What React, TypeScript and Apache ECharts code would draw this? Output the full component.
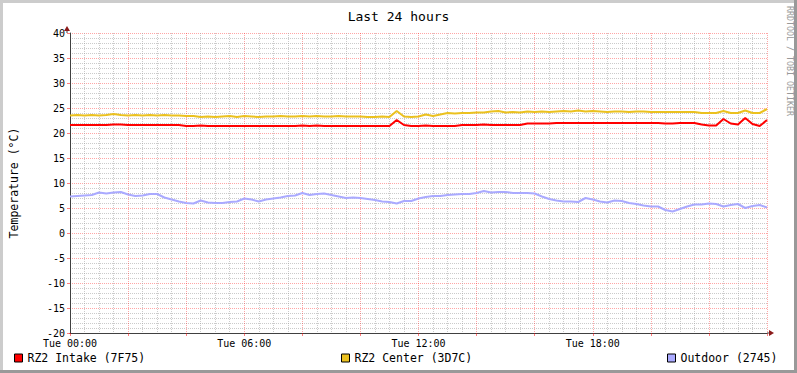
import React, { useEffect, useRef } from 'react';
import * as echarts from 'echarts';

const FONT = "'DejaVu Sans Mono', monospace";

// sample spacing in hours (x positions are index * STEP_HOURS)
const STEP_HOURS = 0.25;
const X_LABEL_HOURS = [0, 6, 12, 18];
const SERIES_NAMES = ['RZ2 Intake (7F75)', 'RZ2 Center (3D7C)', 'Outdoor (2745)'];
const SERIES_COLORS = ['#FF0000', '#EBC11F', '#AAAAFF'];

const INTAKE = [
  21.6, 21.6, 21.6, 21.6, 21.6, 21.6,
  21.7, 21.7,
  21.6, 21.6, 21.6, 21.6, 21.6, 21.6, 21.6, 21.6,
  21.4, 21.4, 21.5,
  21.4, 21.4, 21.4, 21.4, 21.4, 21.4, 21.4, 21.4, 21.4, 21.4, 21.4, 21.4, 21.4,
  21.5, 21.4, 21.5,
  21.4, 21.4, 21.4, 21.4, 21.4, 21.4, 21.4, 21.4, 21.4, 21.4,
  22.6, 21.6, 21.4, 21.4, 21.5,
  21.4, 21.4, 21.4, 21.4,
  21.6, 21.6, 21.6, 21.7,
  21.6, 21.6, 21.6, 21.6, 21.6,
  21.9, 21.9, 21.9, 21.9,
  22.0, 22.0, 22.0, 22.0, 22.0, 22.0, 22.0, 22.0, 22.0, 22.0, 22.0, 22.0, 22.0, 22.0, 22.0,
  21.9, 21.9,
  22.0, 22.0, 22.0,
  21.7, 21.5, 21.5, 22.8, 21.9, 21.7, 23.0, 21.8, 21.4, 22.6,
];

const CENTER = [
  23.5, 23.6, 23.5, 23.6, 23.5, 23.6, 23.8, 23.6, 23.5, 23.6,
  23.5, 23.6, 23.5, 23.6, 23.5, 23.5, 23.4, 23.4, 23.2, 23.3,
  23.2, 23.3, 23.4, 23.2, 23.4, 23.3, 23.2, 23.3, 23.3, 23.4,
  23.3, 23.3, 23.4, 23.3, 23.4, 23.3, 23.3, 23.4, 23.3, 23.3,
  23.3, 23.2, 23.2, 23.3, 23.2, 24.4, 23.3, 23.2, 23.3, 23.7,
  23.4, 23.7, 24.0, 23.9, 24.0, 24.0, 24.1, 24.1, 24.3, 24.4,
  24.1, 24.2, 24.1, 24.3, 24.2, 24.3, 24.2, 24.3, 24.4, 24.3,
  24.5, 24.3, 24.4, 24.3, 24.2, 24.3, 24.3, 24.2, 24.3, 24.3,
  24.2, 24.2, 24.2, 24.2, 24.2, 24.2, 24.2, 24.0, 24.0, 24.0,
  24.4, 24.0, 24.0, 24.5, 24.0, 24.0, 24.8,
];

const OUTDOOR = [
  7.3, 7.4, 7.5, 7.6, 8.1, 7.9, 8.1, 8.2, 7.7, 7.4,
  7.5, 7.8, 7.8, 7.1, 6.7, 6.3, 6.0, 5.9, 6.5, 6.1,
  6.0, 6.0, 6.2, 6.3, 6.9, 6.7, 6.3, 6.7, 6.9, 7.1,
  7.4, 7.5, 8.0, 7.6, 7.8, 7.9, 7.6, 7.3, 7.0, 7.1,
  7.0, 6.8, 6.6, 6.3, 6.2, 5.9, 6.4, 6.4, 6.9, 7.2,
  7.4, 7.4, 7.6, 7.7, 7.8, 7.8, 8.0, 8.4, 8.1, 8.2,
  8.2, 8.0, 8.0, 8.0, 7.9, 7.3, 6.8, 6.5, 6.3, 6.3,
  6.2, 7.0, 6.7, 6.3, 6.1, 6.5, 6.4, 6.0, 5.8, 5.5,
  5.3, 5.3, 4.6, 4.3, 4.8, 5.3, 5.7, 5.7, 5.9, 5.8,
  5.3, 5.6, 5.8, 5.0, 5.4, 5.6, 5.1,
];

const SERIES_VALUES = [INTAKE, CENTER, OUTDOOR];

const pad = (n: number) => (n < 10 ? '0' + n : '' + n);

export default function App() {
  const ref = useRef<HTMLDivElement>(null);
  useEffect(() => {
    if (!ref.current) return;
    const chart = echarts.init(ref.current, undefined, { renderer: 'svg' });
    const legendLefts = [14, 341, 667];
    const option: any = {
      animation: false,
      backgroundColor: '#FFFFFF',
      textStyle: { fontFamily: FONT },
      title: {
        text: 'Last 24 hours',
        left: 'center',
        top: 5,
        textStyle: { fontFamily: FONT, fontSize: 13, fontWeight: 'normal', color: '#000' },
      },
      grid: { left: 67, right: 30, top: 33, bottom: 40, containLabel: false },
      xAxis: {
        type: 'value',
        min: 0,
        max: 24,
        interval: 2,
        axisLine: { show: true, onZero: false, lineStyle: { color: '#404040', width: 1 } },
        axisTick: { show: true, length: 3, lineStyle: { color: 'rgba(255,0,0,0.5)' } },
        minorTick: { show: false, splitNumber: 4 },
        axisLabel: {
          fontFamily: FONT,
          fontSize: 10,
          lineHeight: 10,
          color: '#000',
          margin: 5,
          formatter: (v: number) => (X_LABEL_HOURS.indexOf(v) >= 0 ? 'Tue ' + pad(v) + ':00' : ''),
        },
        splitLine: { show: true, lineStyle: { color: 'rgba(255,0,0,0.35)', type: [1, 1] } },
        minorSplitLine: { show: true, lineStyle: { color: 'rgba(160,160,160,0.55)', type: [1, 1] } },
      },
      yAxis: {
        type: 'value',
        min: -20,
        max: 40,
        interval: 5,
        name: 'Temperature (°C)',
        nameLocation: 'middle',
        nameGap: 50,
        nameRotate: 90,
        nameTextStyle: { fontFamily: FONT, fontSize: 11.5, color: '#000' },
        axisLine: { show: true, onZero: false, lineStyle: { color: '#404040', width: 1 } },
        axisTick: { show: true, length: 3, lineStyle: { color: 'rgba(255,0,0,0.5)' } },
        minorTick: { show: false, splitNumber: 5 },
        axisLabel: { fontFamily: FONT, fontSize: 10, lineHeight: 9, color: '#000', margin: 5 },
        splitLine: { show: true, lineStyle: { color: 'rgba(255,0,0,0.35)', type: [1, 1] } },
        minorSplitLine: { show: true, lineStyle: { color: 'rgba(160,160,160,0.55)', type: [1, 1] } },
      },
      legend: SERIES_NAMES.map((n, i) => ({
        data: [n],
        left: legendLefts[i],
        top: 352,
        icon: 'rect',
        itemWidth: 8,
        itemHeight: 8,
        itemStyle: { borderColor: '#000', borderWidth: 1 },
        textStyle: { fontFamily: FONT, fontSize: 11.5, color: '#000' },
        padding: 0,
        selectedMode: false,
      })),
      series: SERIES_VALUES.map((vals, i) => ({
        name: SERIES_NAMES[i],
        type: 'line',
        showSymbol: false,
        color: SERIES_COLORS[i],
        lineStyle: { width: 2, color: SERIES_COLORS[i] },
        data: vals.map((v, j) => [j * STEP_HOURS, v]),
        z: 3,
      })),
      graphic: [
        { type: 'rect', shape: { x: 0, y: 0, width: 797, height: 3 }, style: { fill: '#CCCCCC' }, z: 100 },
        { type: 'rect', shape: { x: 0, y: 0, width: 3, height: 373 }, style: { fill: '#CCCCCC' }, z: 100 },
        { type: 'rect', shape: { x: 794, y: 0, width: 3, height: 373 }, style: { fill: '#999999' }, z: 100 },
        { type: 'rect', shape: { x: 0, y: 370, width: 797, height: 3 }, style: { fill: '#999999' }, z: 100 },
        { type: 'line', shape: { x1: 67, y1: 33, x2: 67, y2: 30 }, style: { stroke: '#404040', lineWidth: 1 }, z: 50 },
        { type: 'polygon', shape: { points: [[64, 31], [70, 31], [67, 26]] }, style: { fill: '#8B1A1A' }, z: 50 },
        { type: 'line', shape: { x1: 767, y1: 333, x2: 770, y2: 333 }, style: { stroke: '#404040', lineWidth: 1 }, z: 50 },
        { type: 'polygon', shape: { points: [[769, 330], [769, 336], [774, 333]] }, style: { fill: '#8B1A1A' }, z: 50 },
        {
          type: 'text',
          x: 790,
          y: 6,
          rotation: -Math.PI / 2,
          style: {
            text: 'RRDTOOL / TOBI OETIKER',
            fill: '#999999',
            font: "8.3px 'DejaVu Sans Mono', monospace",
            textAlign: 'left',
            textVerticalAlign: 'middle',
          },
          z: 50,
        },
      ],
    };
    chart.setOption(option);
    return () => chart.dispose();
  }, []);
  return <div ref={ref} style={{ position: 'absolute', left: 0, top: 0, width: 797, height: 373 }} />;
}
